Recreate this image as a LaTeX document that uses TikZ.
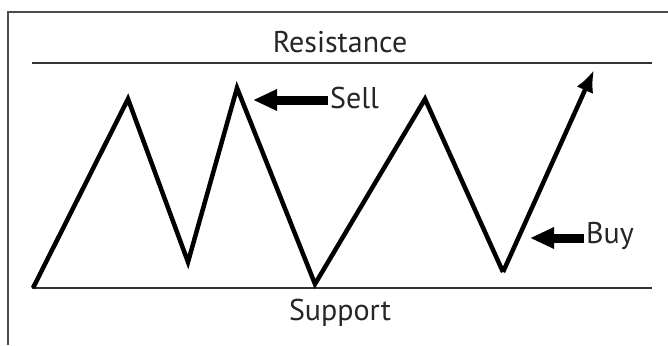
\documentclass[tikz,border=0pt]{standalone}
\usepackage{fontspec}
\setmainfont{PT Sans}
\usetikzlibrary{arrows.meta,positioning}

\begin{document}
\begin{tikzpicture}[
  x=1pt,y=-1pt,>=Latex,
  level/.style={draw=black!80,line width=2pt},
  price/.style={line width=4.5pt,line join=miter},
  signal/.style={-{Triangle[length=24pt,width=20pt]},line width=9pt},
  every node/.style={font=\fontsize{30}{34}\selectfont,text=black!85}
]
  \useasboundingbox (0,0) rectangle (668,345);
  % frame
  \draw[black!70,line width=2pt] (8,345) -- (8,12) -- (668,12);
  % levels
  \draw[level] (32,63) -- (652,63);
  \draw[level] (32,288) -- (652,288);
  \node (resistance) at (340,42) {Resistance};
  \node (support) at (340,313) {Support};
  % price path
  \coordinate (p0) at (33,288);
  \coordinate (p1) at (128,99);
  \coordinate (p2) at (188,262);
  \coordinate (p3) at (237,88);
  \coordinate (p4) at (315,284);
  \coordinate (p5) at (425,99);
  \coordinate (p6) at (503,272);
  \coordinate (p7) at (594,70);
  \draw[price] (p0) -- (p1) -- (p2) -- (p3) -- (p4) -- (p5) -- (p6);
  \draw[price,-{Latex[length=22pt,width=18pt]}] (p6) -- (p7);
  % signals
  \node[anchor=west,inner sep=2pt] (sell) at (328,98) {Sell};
  \coordinate (selltip) at (253,100);
  \draw[signal] (sell.west |- selltip) -- (selltip);
  \node[anchor=west,inner sep=2pt] (buy) at (584,236) {Buy};
  \coordinate (buytip) at (530,238);
  \draw[signal] (buy.west |- buytip) -- (buytip);
\end{tikzpicture}
\end{document}
